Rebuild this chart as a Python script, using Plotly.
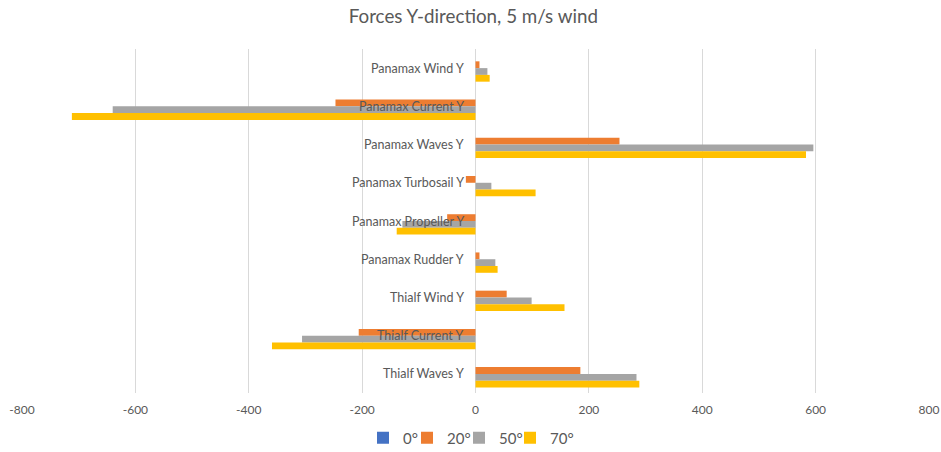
import plotly.graph_objects as go

categories = ["Panamax Wind Y", "Panamax Current Y", "Panamax Waves Y", "Panamax Turbosail Y",
              "Panamax Propeller Y", "Panamax Rudder Y", "Thialf Wind Y", "Thialf Current Y", "Thialf Waves Y"]
series_names = ["0°", "20°", "50°", "70°"]
vals_0 = [0, 0, 0, 0, 0, 0, 0, 0, 0]
vals_20 = [7, -247, 254, -17, -50, 7, 55, -206, 185]
vals_50 = [21, -640, 596, 28, -129, 35, 99, -306, 284]
vals_70 = [25, -712, 583, 106, -139, 39, 157, -359, 289]
colors = ["#4472C4", "#ED7D31", "#A5A5A5", "#FFC000"]
x_ticks = [-800, -600, -400, -200, 0, 200, 400, 600, 800]

font_fam = "Lato, 'Open Sans', sans-serif"
legend_ids = ["legend", "legend2", "legend3", "legend4"]
legend_left_px = [363, 407, 459, 510]

fig = go.Figure()
for name, vals, col, lid in zip(series_names, [vals_0, vals_20, vals_50, vals_70], colors, legend_ids):
    fig.add_trace(go.Bar(y=categories, x=vals, name=name, orientation="h", legend=lid, showlegend=True,
                         marker=dict(color=col, line=dict(width=0))))

for c in categories:
    fig.add_annotation(x=0, y=c, xref="x", yref="y", text=c, showarrow=False,
                       xanchor="right", xshift=-10, font=dict(size=12.5, color="#595959", family=font_fam))

legend_cfg = {}
for lid, lx in zip(legend_ids, legend_left_px):
    legend_cfg[lid] = dict(orientation="h", xref="container", x=lx / 941, xanchor="left",
                           yref="container", y=0.031, yanchor="middle", bgcolor="rgba(0,0,0,0)",
                           font=dict(size=15, color="#595959", family=font_fam), itemwidth=30)

fig.update_layout(
    width=941, height=452,
    showlegend=True,
    margin=dict(l=22, r=12, t=49, b=59, autoexpand=False),
    paper_bgcolor="white", plot_bgcolor="white",
    barmode="group", bargap=0.29, bargroupgap=0,
    title=dict(text="Forces Y-direction, 5 m/s wind", x=0.503, xanchor="center", y=0.963, yanchor="middle",
               font=dict(size=18.8, color="#595959", family=font_fam)),
    font=dict(family=font_fam, color="#595959"),
    xaxis=dict(range=[-800, 800], tickvals=x_ticks, ticktext=[str(t) for t in x_ticks], automargin=False,
               showgrid=True, gridcolor="#D9D9D9", gridwidth=1, zeroline=True, zerolinecolor="#D9D9D9",
               zerolinewidth=1, showline=False, ticks="outside", ticklen=6, tickcolor="rgba(0,0,0,0)",
               tickfont=dict(size=12, color="#595959")),
    yaxis=dict(autorange="reversed", showticklabels=False, showgrid=False, zeroline=False, showline=False,
               automargin=False),
    **legend_cfg,
)

fig.write_html("out.html")
